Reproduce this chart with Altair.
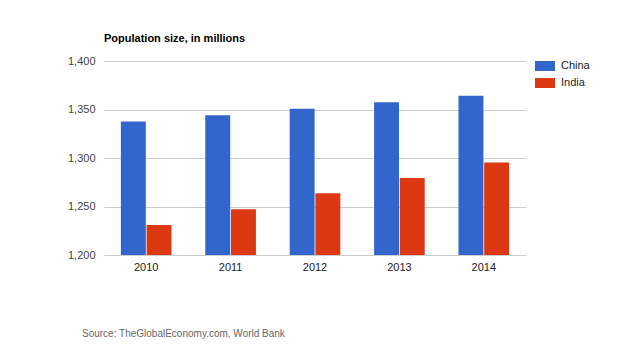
import altair as alt
import pandas as pd

years = ["2010", "2011", "2012", "2013", "2014"]
china = [1337.7, 1344.1, 1350.7, 1357.4, 1364.3]
india = [1231.0, 1247.2, 1263.6, 1279.5, 1295.3]
series = ["China", "India"]
colors = ["#3366cc", "#dc3912"]
y_ticks = [1200, 1250, 1300, 1350, 1400]
source_text = "Source: TheGlobalEconomy.com, World Bank"

rows = []
for i, yr in enumerate(years):
    rows.append({"year": yr, "country": "China", "value": china[i]})
    rows.append({"year": yr, "country": "India", "value": india[i]})
df = pd.DataFrame(rows)

FONT = "Liberation Sans"

bars = alt.Chart(df).mark_bar(clip=True).encode(
    x=alt.X("year:N", title=None,
            scale=alt.Scale(paddingInner=0.4, paddingOuter=0.2),
            axis=alt.Axis(labelAngle=0, ticks=False, domain=False, grid=False,
                          labelPadding=6, labelFontSize=11, labelColor="#222222",
                          labelFont=FONT)),
    xOffset=alt.XOffset("country:N", scale=alt.Scale(paddingInner=0.03)),
    y=alt.Y("value:Q", title=None,
            scale=alt.Scale(domain=[1200, 1400], nice=False, zero=False),
            axis=alt.Axis(values=y_ticks, format=",d", ticks=False, domain=False,
                          labelPadding=9, labelFontSize=11, labelColor="#444444",
                          labelFont=FONT, gridColor="#cccccc")),
    color=alt.Color("country:N", title=None,
                    scale=alt.Scale(domain=series, range=colors),
                    legend=alt.Legend(orient="none", legendX=431, legendY=-5,
                                      symbolType="M-1,-0.5L1,-0.5L1,0.5L-1,0.5Z",
                                      symbolSize=400, symbolStrokeWidth=0,
                                      symbolOpacity=1,
                                      labelFont=FONT, labelFontSize=11,
                                      labelColor="#222222", rowPadding=2,
                                      labelOffset=6, padding=0)),
)

src = alt.Chart(pd.DataFrame({"t": [source_text]})).mark_text(
    align="left", baseline="middle", font=FONT, fontSize=10, color="#666666"
).encode(x=alt.value(-22), y=alt.value(273), text="t:N")

chart = alt.layer(bars, src).properties(
    width=422, height=194,
    background="white",
    title=alt.TitleParams("Population size, in millions", anchor="start",
                          frame="group",
                          font=FONT, fontSize=11, fontWeight="bold",
                          color="#000000", offset=11),
    padding={"left": 104, "top": 61, "right": 104, "bottom": 99},
    autosize=alt.AutoSizeParams(type="none"),
).configure_view(stroke=None)

chart.save("out.html", embed_options={"renderer": "svg", "actions": False})
